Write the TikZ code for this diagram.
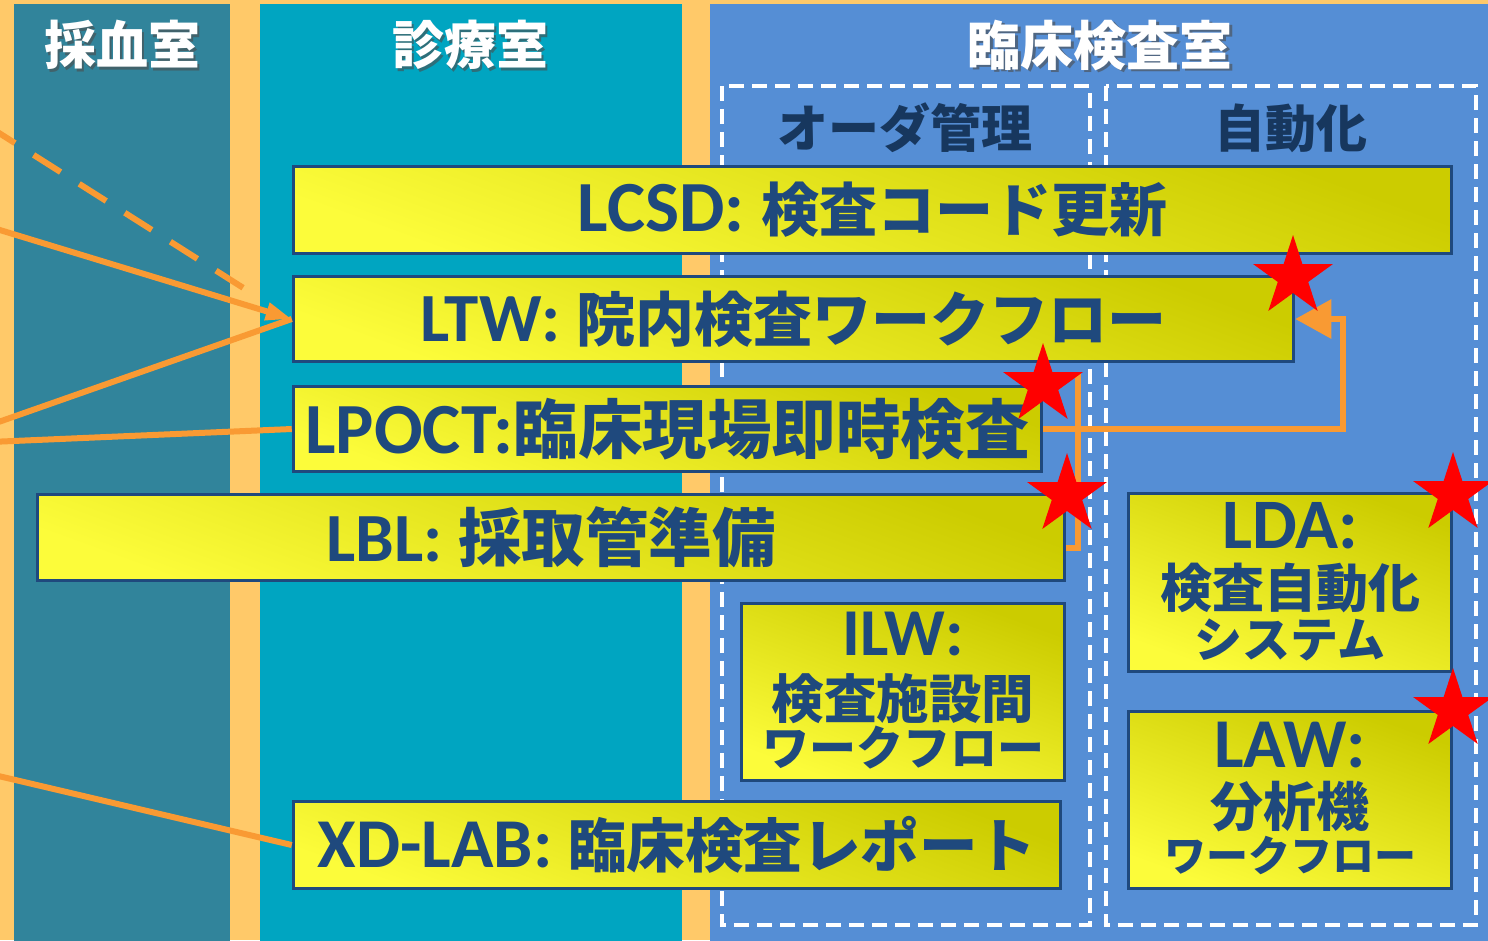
\documentclass[tikz,border=0pt]{standalone}
\usepackage{fontspec}
\newfontfamily\jp{Noto Sans CJK JP}
\newfontfamily\lat{Carlito}
\usetikzlibrary{arrows.meta}
\definecolor{bgorange}{HTML}{FFC969}
\definecolor{colA}{HTML}{31849B}
\definecolor{colB}{HTML}{00A5C1}
\definecolor{colC}{HTML}{558ED5}
\definecolor{navy}{HTML}{1F497D}
\definecolor{navydark}{HTML}{17375E}
\definecolor{connc}{HTML}{F99A33}
\definecolor{ylight}{HTML}{FCFC3A}
\definecolor{ydark}{HTML}{CCCC00}
\newcommand\fsz[1]{\fontsize{#1}{#1}\selectfont}
\newcommand\LT[2]{{\lat\bfseries\fsz{#1}#2}}
\newcommand\JT[2]{{\jp\bfseries\fsz{#1}#2}}
\newcommand\redstar[2]{%
  \fill[starfill, shift={(#1,#2)}] (-90:42)
    \foreach \k in {1,...,9}{ -- ({-90+36*\k}:{ifthenelse(mod(\k,2)==0,42,16)}) } -- cycle;}
\tikzset{
  lane/.style={fill=#1, draw=none},
  roomtitle/.style={text=white, inner sep=0pt},
  roomshadow/.style={text=black!70, opacity=0.6, inner sep=0pt},
  subtitle/.style={text=navydark, inner sep=0pt},
  group/.style={draw=white, line width=3.5pt, dash pattern=on 15pt off 8pt},
  box/.style={draw=navy, line width=3.5pt, inner sep=0pt, text=navy,
    top color=ydark, bottom color=ylight, shading angle=-20},
  boxtext/.style={text=navy, inner sep=0pt},
  latline/.style 2 args={boxtext, font=\lat\bfseries\fsz{#1}, text height=#2pt, text depth=0pt},
  jpline/.style n args={3}{boxtext, font=\jp\bfseries\fsz{#1}, text height=#2pt, text depth=#3pt},
  conn/.style={draw=connc, line width=6pt},
  starfill/.style={fill=red},
}
\begin{document}
\begin{tikzpicture}[x=1pt,y=-1pt]
\useasboundingbox (0,0) rectangle (1488,940);
\clip (0,0) rectangle (1488,940);
% background and lanes
\fill[bgorange] (0,0) rectangle (1488,940);
\fill[lane=colA] (14,4) rectangle (230,945);
\fill[lane=colB] (260,4) rectangle (682,945);
\fill[lane=colC] (710,4) rectangle (1495,945);
% room titles
\node[roomshadow] (tA-s) at (124.5,47.5) {\JT{52}{採血室}};
\node[roomtitle] (tA) at (122,45) {\JT{52}{採血室}};
\node[roomshadow] (tB-s) at (472.5,47.5) {\JT{52}{診療室}};
\node[roomtitle] (tB) at (470,45) {\JT{52}{診療室}};
\node[roomshadow] (tC-s) at (1102.5,47.5) {\JT{53}{臨床検査室}};
\node[roomtitle] (tC) at (1100,45) {\JT{53}{臨床検査室}};
% dashed groups
\draw[group] (722,86) rectangle (1090,925);
\draw[group] (1106,86) rectangle (1476,925);
\node[subtitle] (g1) at (905,128) {\JT{51}{オーダ管理}};
\node[subtitle] (g2) at (1291,128) {\JT{51}{自動化}};
% free ends of connectors
\coordinate (d0) at (-12,126);
\coordinate (d1) at (245,289);
\coordinate (e1) at (-10,227);
\coordinate (e2) at (-10,425);
\coordinate (e3) at (-10,442);
\coordinate (e4) at (-10,774);
% boxes
\node[box, minimum width=1158pt, minimum height=87pt] (lcsd) at (872.5,210)
  {\LT{72}{LCSD: }\JT{58}{検査コード更新}};
\node[box, minimum width=1000pt, minimum height=85pt] (ltw) at (793.5,319)
  {\LT{69}{LTW: }\JT{59}{院内検査ワークフロー}};
\node[box, minimum width=748pt, minimum height=85pt] (lpoct) at (667.5,429)
  {\LT{72}{LPOCT:}\JT{64.5}{臨床現場即時検査}};
\node[box, minimum width=1027pt, minimum height=86pt] (lbl) at (551,537.5)
  {\LT{69}{LBL: }\JT{63.5}{採取管準備}};
\node[box, minimum width=767pt, minimum height=87pt] (xdlab) at (677,845)
  {\LT{70}{XD-LAB: }\JT{58.5}{臨床検査レポート}};
\node[box, minimum width=323pt, minimum height=177pt] (ilw) at (903,692) {};
\node[box, minimum width=323pt, minimum height=178pt] (lda) at (1290,582.5) {};
\node[box, minimum width=323pt, minimum height=177pt] (law) at (1290,800) {};
% multi-line box texts
\node[latline={67}{43.1}] (ilw-1) at (ilw.center |- 0,634) {ILW:};
\node[jpline={52.5}{43.05}{3.15}] (ilw-2) at (ilw.center |- 0,699) {検査施設間};
\node[jpline={47}{38.5}{2.8}] (ilw-3) at (ilw.center |- 0,748) {ワークフロー};
\node[latline={71}{45.7}] (lda-1) at (lda.center |- 0,526) {LDA:};
\node[jpline={52}{42.6}{3.1}] (lda-2) at (lda.center |- 0,588) {検査自動化};
\node[jpline={48}{39.4}{2.9}] (lda-3) at (lda.center |- 0,639) {システム};
\node[latline={70}{45.1}] (law-1) at (law.center |- 0,745) {LAW:};
\node[jpline={53}{43.5}{3.2}] (law-2) at (law.center |- 0,806) {分析機};
\node[jpline={42}{34.4}{2.5}] (law-3) at (law.center |- 0,856) {ワークフロー};
% connectors
\draw[conn, dash pattern=on 32pt off 22pt] (d0) -- (d1);
\draw[conn, -{Triangle[length=26pt,width=17pt]}] (e1) -- (ltw.west);
\draw[conn] (e2) -- (ltw.west);
\draw[conn] (e3) -- (lpoct.west);
\draw[conn] (e4) -- (xdlab.west);
\draw[conn, -{Triangle[length=36pt,width=38pt]}] (lpoct.east) -- ++(300,0) |- (ltw.east);
\coordinate (lbltop) at (1078,373);
\draw[conn] ([yshift=-10pt]lbl.east) -| (lbltop);
% stars
\redstar{1293}{277}
\redstar{1043}{385}
\redstar{1067}{495}
\redstar{1453}{494}
\redstar{1453}{710}
\end{tikzpicture}
\end{document}
